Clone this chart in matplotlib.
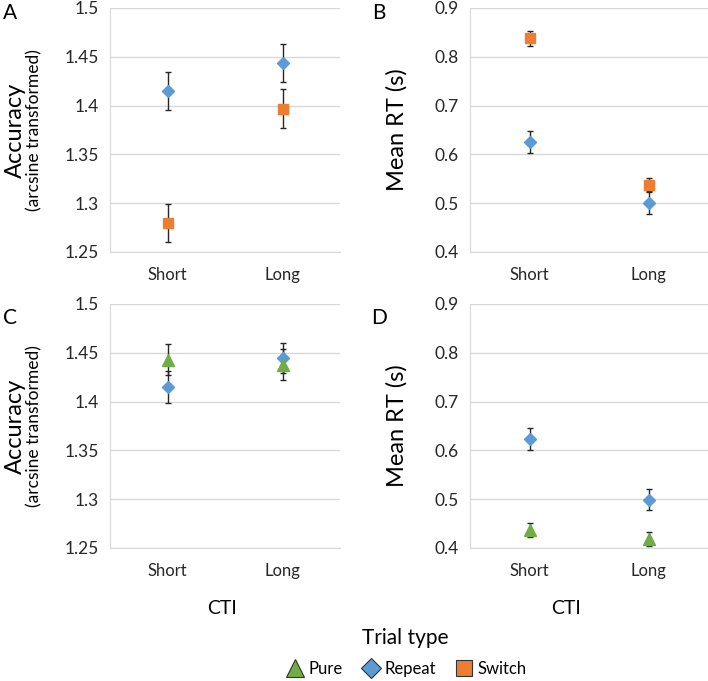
import numpy as np
import matplotlib.pyplot as plt
from matplotlib.lines import Line2D

plt.rcParams['font.family'] = ['Lato', 'DejaVu Sans']

cti = ['Short', 'Long']

# panel A: accuracy, repeat vs switch
acc_repeat = [1.415, 1.444]
acc_repeat_err = [0.0195, 0.0195]
acc_switch = [1.280, 1.397]
acc_switch_err = [0.0195, 0.0195]

# panel B: RT, repeat vs switch
rt_repeat = [0.625, 0.500]
rt_repeat_err = [0.022, 0.022]
rt_switch = [0.838, 0.538]
rt_switch_err = [0.015, 0.014]

# panel C: accuracy, pure vs repeat
acc_pure = [1.443, 1.438]
acc_pure_err = [0.0158, 0.0163]
acc_repeat2 = [1.415, 1.445]
acc_repeat2_err = [0.0165, 0.0155]

# panel D: RT, pure vs repeat
rt_pure = [0.437, 0.419]
rt_pure_err = [0.015, 0.0145]
rt_repeat2 = [0.624, 0.499]
rt_repeat2_err = [0.0225, 0.022]

BLUE = '#5B9BD5'
ORANGE = '#ED7D31'
GREEN = '#70AD47'
GRID = '#D9D9D9'
TXT = '#262626'

W, H = 708, 681
fig = plt.figure(figsize=(W / 100, H / 100), dpi=100)


def make_ax(x0, x1, y0, y1):
    return fig.add_axes([x0 / W, 1 - y1 / H, (x1 - x0) / W, (y1 - y0) / H])


def style(ax, ylim, yticks, fmt):
    ax.set_xlim(0, 2)
    ax.set_ylim(*ylim)
    ax.set_yticks(yticks)
    ax.set_yticklabels([fmt(t) for t in yticks], fontsize=12.5, color=TXT)
    ax.set_xticks([0.5, 1.5])
    ax.set_xticklabels(cti, fontsize=12, color=TXT)
    ax.tick_params(length=0, pad=8)
    ax.tick_params(axis='x', pad=11)
    ax.yaxis.grid(True, color=GRID, lw=1)
    ax.set_axisbelow(True)
    for s in ['top', 'right']:
        ax.spines[s].set_visible(False)
    for s in ['left', 'bottom']:
        ax.spines[s].set_color(GRID)


def series(ax, vals, errs, marker, color, ms):
    ax.errorbar([0.5, 1.5], vals, yerr=errs, fmt='none', ecolor='#262626',
                elinewidth=1, capsize=2.5, capthick=1, zorder=2)
    ax.plot([0.5, 1.5], vals, linestyle='none', marker=marker, color=color,
            ms=ms, mec=color, zorder=3)


def acc_fmt(t):
    return ('%.2f' % t).rstrip('0').rstrip('.')


def rt_fmt(t):
    return '%.1f' % t


acc_ticks = [1.25, 1.3, 1.35, 1.4, 1.45, 1.5]
rt_ticks = [0.4, 0.5, 0.6, 0.7, 0.8, 0.9]

axA = make_ax(110, 340, 8, 252)
axB = make_ax(470, 708, 8, 252)
axC = make_ax(110, 340, 304, 548)
axD = make_ax(470, 708, 304, 548)

style(axA, (1.25, 1.5), acc_ticks, acc_fmt)
style(axC, (1.25, 1.5), acc_ticks, acc_fmt)
style(axB, (0.4, 0.9), rt_ticks, rt_fmt)
style(axD, (0.4, 0.9), rt_ticks, rt_fmt)

series(axA, acc_repeat, acc_repeat_err, 'D', BLUE, 6.5)
series(axA, acc_switch, acc_switch_err, 's', ORANGE, 6.5)
series(axB, rt_repeat, rt_repeat_err, 'D', BLUE, 6.5)
series(axB, rt_switch, rt_switch_err, 's', ORANGE, 6.5)
series(axC, acc_repeat2, acc_repeat2_err, 'D', BLUE, 6.5)
series(axC, acc_pure, acc_pure_err, '^', GREEN, 8)
series(axD, rt_repeat2, rt_repeat2_err, 'D', BLUE, 6.5)
series(axD, rt_pure, rt_pure_err, '^', GREEN, 8)

# y labels
for y in (130, 426):
    fig.text(15 / W, 1 - y / H, 'Accuracy', rotation=90, fontsize=17,
             ha='center', va='center', color='black')
    fig.text(34 / W, 1 - y / H, '(arcsine transformed)', rotation=90,
             fontsize=12.5, ha='center', va='center', color='black')
    fig.text(397 / W, 1 - y / H, 'Mean RT (s)', rotation=90, fontsize=17,
             ha='center', va='center', color='black')

# panel letters
for lab, x, y in [('A', 10, 13), ('B', 379, 13), ('C', 10, 318), ('D', 379, 318)]:
    fig.text(x / W, 1 - y / H, lab, fontsize=15, ha='center', va='center')

fig.text(222 / W, 1 - 608 / H, 'CTI', fontsize=14, ha='center', va='center')
fig.text(566 / W, 1 - 608 / H, 'CTI', fontsize=14, ha='center', va='center')
fig.text(405 / W, 1 - 638 / H, 'Trial type', fontsize=15, ha='center', va='center')

handles = [
    Line2D([], [], linestyle='none', marker='^', ms=13, mfc=GREEN, mec='#333333', mew=0.8),
    Line2D([], [], linestyle='none', marker='D', ms=10, mfc=BLUE, mec='#333333', mew=0.8),
    Line2D([], [], linestyle='none', marker='s', ms=12, mfc=ORANGE, mec='#333333', mew=0.8),
]
fig.legend(handles, ['Pure', 'Repeat', 'Switch'], loc='center',
           bbox_to_anchor=(407 / W, 1 - 669 / H), ncol=3, frameon=False,
           fontsize=12, handlelength=1.0, handletextpad=0.3, columnspacing=1.2)

fig.savefig('out.png', dpi=100)
